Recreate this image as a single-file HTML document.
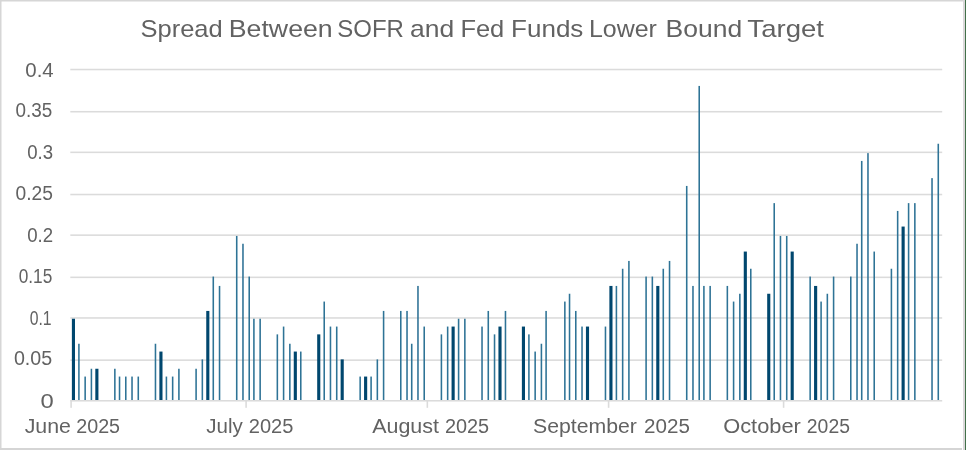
<!DOCTYPE html>
<html><head><meta charset="utf-8"><title>Spread Between SOFR and Fed Funds Lower Bound Target</title>
<style>
html,body{margin:0;padding:0;background:#fff;}
body{width:966px;height:450px;overflow:hidden;font-family:"Liberation Sans",sans-serif;}
svg{display:block;}
text{font-family:"Liberation Sans",sans-serif;fill:#626262;}
</style></head><body>
<svg width="966" height="450" viewBox="0 0 966 450">
<defs>
<filter id="bs" x="-2%" y="-2%" width="104%" height="104%"><feGaussianBlur stdDeviation="0.58"/></filter>
<filter id="bt" x="-2%" y="-10%" width="104%" height="120%"><feGaussianBlur stdDeviation="0.72"/></filter>
</defs>
<rect x="0" y="0" width="966" height="450" fill="#ffffff"/>

<g filter="url(#bs)">
<rect x="-2" y="-2" width="966" height="3.5" fill="#d6d6d6"/>
<rect x="-2" y="-2" width="3.5" height="454" fill="#d6d6d6"/>
<rect x="-2" y="448" width="964" height="4" fill="#d5d5d5"/>
<rect x="963" y="-2" width="2" height="454" fill="#dbd9da"/>
</g>
<rect x="965" y="0" width="1" height="450" fill="#42704a"/>
<g filter="url(#bs)"><g transform="scale(1.5625)">
<rect x="45" y="44" width="558" height="1" fill="#dbdbdb"/>
<rect x="45" y="71" width="558" height="1" fill="#dbdbdb"/>
<rect x="45" y="97" width="558" height="1" fill="#dbdbdb"/>
<rect x="45" y="124" width="558" height="1" fill="#dbdbdb"/>
<rect x="45" y="150" width="558" height="1" fill="#dbdbdb"/>
<rect x="45" y="177" width="558" height="1" fill="#dbdbdb"/>
<rect x="45" y="203" width="558" height="1" fill="#dbdbdb"/>
<rect x="45" y="230" width="558" height="1" fill="#dbdbdb"/>
<rect x="46" y="204" width="2" height="52" fill="#00466e"/>
<rect x="50" y="220" width="1" height="36" fill="#2f7396"/>
<rect x="54" y="241" width="1" height="15" fill="#2f7396"/>
<rect x="58" y="236" width="1" height="20" fill="#2f7396"/>
<rect x="61" y="236" width="2" height="20" fill="#00466e"/>
<rect x="73" y="236" width="1" height="20" fill="#2f7396"/>
<rect x="76" y="241" width="1" height="15" fill="#2f7396"/>
<rect x="80" y="241" width="1" height="15" fill="#2f7396"/>
<rect x="84" y="241" width="1" height="15" fill="#2f7396"/>
<rect x="88" y="241" width="1" height="15" fill="#2f7396"/>
<rect x="99" y="220" width="1" height="36" fill="#2f7396"/>
<rect x="102" y="225" width="2" height="31" fill="#00466e"/>
<rect x="106" y="241" width="1" height="15" fill="#2f7396"/>
<rect x="110" y="241" width="1" height="15" fill="#2f7396"/>
<rect x="114" y="236" width="1" height="20" fill="#2f7396"/>
<rect x="125" y="236" width="1" height="20" fill="#2f7396"/>
<rect x="129" y="230" width="1" height="26" fill="#2f7396"/>
<rect x="132" y="199" width="2" height="57" fill="#00466e"/>
<rect x="136" y="177" width="1" height="79" fill="#2f7396"/>
<rect x="140" y="183" width="1" height="73" fill="#2f7396"/>
<rect x="151" y="151" width="1" height="105" fill="#2f7396"/>
<rect x="155" y="156" width="1" height="100" fill="#2f7396"/>
<rect x="159" y="177" width="1" height="79" fill="#2f7396"/>
<rect x="162" y="204" width="1" height="52" fill="#2f7396"/>
<rect x="166" y="204" width="1" height="52" fill="#2f7396"/>
<rect x="177" y="214" width="1" height="42" fill="#2f7396"/>
<rect x="181" y="209" width="1" height="47" fill="#2f7396"/>
<rect x="185" y="220" width="1" height="36" fill="#2f7396"/>
<rect x="188" y="225" width="2" height="31" fill="#00466e"/>
<rect x="192" y="225" width="1" height="31" fill="#2f7396"/>
<rect x="203" y="214" width="2" height="42" fill="#00466e"/>
<rect x="207" y="193" width="1" height="63" fill="#2f7396"/>
<rect x="211" y="209" width="1" height="47" fill="#2f7396"/>
<rect x="215" y="209" width="1" height="47" fill="#2f7396"/>
<rect x="218" y="230" width="2" height="26" fill="#00466e"/>
<rect x="230" y="241" width="1" height="15" fill="#2f7396"/>
<rect x="233" y="241" width="2" height="15" fill="#00466e"/>
<rect x="237" y="241" width="1" height="15" fill="#2f7396"/>
<rect x="241" y="230" width="1" height="26" fill="#2f7396"/>
<rect x="245" y="199" width="1" height="57" fill="#2f7396"/>
<rect x="256" y="199" width="1" height="57" fill="#2f7396"/>
<rect x="260" y="199" width="1" height="57" fill="#2f7396"/>
<rect x="263" y="220" width="1" height="36" fill="#2f7396"/>
<rect x="267" y="183" width="1" height="73" fill="#2f7396"/>
<rect x="271" y="209" width="1" height="47" fill="#2f7396"/>
<rect x="282" y="214" width="1" height="42" fill="#2f7396"/>
<rect x="286" y="209" width="1" height="47" fill="#2f7396"/>
<rect x="289" y="209" width="2" height="47" fill="#00466e"/>
<rect x="293" y="204" width="1" height="52" fill="#2f7396"/>
<rect x="297" y="204" width="1" height="52" fill="#2f7396"/>
<rect x="308" y="209" width="1" height="47" fill="#2f7396"/>
<rect x="312" y="199" width="1" height="57" fill="#2f7396"/>
<rect x="316" y="214" width="1" height="42" fill="#2f7396"/>
<rect x="319" y="209" width="2" height="47" fill="#00466e"/>
<rect x="323" y="199" width="1" height="57" fill="#2f7396"/>
<rect x="334" y="209" width="2" height="47" fill="#00466e"/>
<rect x="338" y="214" width="1" height="42" fill="#2f7396"/>
<rect x="342" y="225" width="1" height="31" fill="#2f7396"/>
<rect x="346" y="220" width="1" height="36" fill="#2f7396"/>
<rect x="349" y="199" width="1" height="57" fill="#2f7396"/>
<rect x="361" y="193" width="1" height="63" fill="#2f7396"/>
<rect x="364" y="188" width="1" height="68" fill="#2f7396"/>
<rect x="368" y="199" width="1" height="57" fill="#2f7396"/>
<rect x="372" y="209" width="1" height="47" fill="#2f7396"/>
<rect x="375" y="209" width="2" height="47" fill="#00466e"/>
<rect x="387" y="209" width="1" height="47" fill="#2f7396"/>
<rect x="390" y="183" width="2" height="73" fill="#00466e"/>
<rect x="394" y="183" width="1" height="73" fill="#2f7396"/>
<rect x="398" y="172" width="1" height="84" fill="#2f7396"/>
<rect x="402" y="167" width="1" height="89" fill="#2f7396"/>
<rect x="413" y="177" width="1" height="79" fill="#2f7396"/>
<rect x="417" y="177" width="1" height="79" fill="#2f7396"/>
<rect x="420" y="183" width="2" height="73" fill="#00466e"/>
<rect x="424" y="172" width="1" height="84" fill="#2f7396"/>
<rect x="428" y="167" width="1" height="89" fill="#2f7396"/>
<rect x="439" y="119" width="1" height="137" fill="#2f7396"/>
<rect x="443" y="183" width="1" height="73" fill="#2f7396"/>
<rect x="447" y="55" width="1" height="201" fill="#2f7396"/>
<rect x="450" y="183" width="1" height="73" fill="#2f7396"/>
<rect x="454" y="183" width="1" height="73" fill="#2f7396"/>
<rect x="465" y="183" width="1" height="73" fill="#2f7396"/>
<rect x="469" y="193" width="1" height="63" fill="#2f7396"/>
<rect x="473" y="188" width="1" height="68" fill="#2f7396"/>
<rect x="476" y="161" width="2" height="95" fill="#00466e"/>
<rect x="480" y="172" width="1" height="84" fill="#2f7396"/>
<rect x="491" y="188" width="2" height="68" fill="#00466e"/>
<rect x="495" y="130" width="1" height="126" fill="#2f7396"/>
<rect x="499" y="151" width="1" height="105" fill="#2f7396"/>
<rect x="503" y="151" width="1" height="105" fill="#2f7396"/>
<rect x="506" y="161" width="2" height="95" fill="#00466e"/>
<rect x="518" y="177" width="1" height="79" fill="#2f7396"/>
<rect x="521" y="183" width="2" height="73" fill="#00466e"/>
<rect x="525" y="193" width="1" height="63" fill="#2f7396"/>
<rect x="529" y="188" width="1" height="68" fill="#2f7396"/>
<rect x="533" y="177" width="1" height="79" fill="#2f7396"/>
<rect x="544" y="177" width="1" height="79" fill="#2f7396"/>
<rect x="548" y="156" width="1" height="100" fill="#2f7396"/>
<rect x="551" y="103" width="1" height="153" fill="#2f7396"/>
<rect x="555" y="98" width="1" height="158" fill="#2f7396"/>
<rect x="559" y="161" width="1" height="95" fill="#2f7396"/>
<rect x="570" y="172" width="1" height="84" fill="#2f7396"/>
<rect x="574" y="135" width="1" height="121" fill="#2f7396"/>
<rect x="577" y="145" width="2" height="111" fill="#00466e"/>
<rect x="581" y="130" width="1" height="126" fill="#2f7396"/>
<rect x="585" y="130" width="1" height="126" fill="#2f7396"/>
<rect x="596" y="114" width="1" height="142" fill="#2f7396"/>
<rect x="600" y="92" width="1" height="164" fill="#2f7396"/>
<rect x="45" y="256" width="558" height="1" fill="#dbdbdb"/>
<rect x="45" y="256" width="1" height="5" fill="#dbdbdb"/>
<rect x="157" y="256" width="1" height="5" fill="#dbdbdb"/>
<rect x="273" y="256" width="1" height="5" fill="#dbdbdb"/>
<rect x="389" y="256" width="1" height="5" fill="#dbdbdb"/>
<rect x="501" y="256" width="1" height="5" fill="#dbdbdb"/>
</g></g>
<g filter="url(#bt)">
<text x="140.49" y="37.3" font-size="23.2" fill="#696969" textLength="82.24" lengthAdjust="spacingAndGlyphs">Spread</text>
<text x="228.79" y="37.3" font-size="23.2" fill="#696969" textLength="103.95" lengthAdjust="spacingAndGlyphs">Between</text>
<text x="337.35" y="37.3" font-size="23.2" fill="#696969" textLength="66.55" lengthAdjust="spacingAndGlyphs">SOFR</text>
<text x="409.94" y="37.3" font-size="23.2" fill="#696969" textLength="44.20" lengthAdjust="spacingAndGlyphs">and</text>
<text x="460.40" y="37.3" font-size="23.2" fill="#696969" textLength="43.90" lengthAdjust="spacingAndGlyphs">Fed</text>
<text x="511.04" y="37.3" font-size="23.2" fill="#696969" textLength="72.35" lengthAdjust="spacingAndGlyphs">Funds</text>
<text x="588.92" y="37.3" font-size="23.2" fill="#696969" textLength="67.99" lengthAdjust="spacingAndGlyphs">Lower</text>
<text x="665.54" y="37.3" font-size="23.2" fill="#696969" textLength="76.64" lengthAdjust="spacingAndGlyphs">Bound</text>
<text x="747.38" y="37.3" font-size="23.2" fill="#696969" textLength="76.56" lengthAdjust="spacingAndGlyphs">Target</text>
<text x="25.29" y="76.5" font-size="19.4" fill="#707070" textLength="28.38" lengthAdjust="spacingAndGlyphs">0.4</text>
<text x="15.45" y="116.9" font-size="19.4" fill="#707070" textLength="36.76" lengthAdjust="spacingAndGlyphs">0.35</text>
<text x="27.19" y="159.3" font-size="19.4" fill="#707070" textLength="25.87" lengthAdjust="spacingAndGlyphs">0.3</text>
<text x="15.54" y="199.7" font-size="19.4" fill="#707070" textLength="37.41" lengthAdjust="spacingAndGlyphs">0.25</text>
<text x="27.17" y="242.2" font-size="19.4" fill="#707070" textLength="25.92" lengthAdjust="spacingAndGlyphs">0.2</text>
<text x="18.71" y="282.5" font-size="19.4" fill="#707070" textLength="33.59" lengthAdjust="spacingAndGlyphs">0.15</text>
<text x="29.70" y="325.0" font-size="19.4" fill="#707070" textLength="21.88" lengthAdjust="spacingAndGlyphs">0.1</text>
<text x="13.95" y="365.4" font-size="19.4" fill="#707070" textLength="38.27" lengthAdjust="spacingAndGlyphs">0.05</text>
<text x="40.53" y="407.8" font-size="19.4" fill="#707070" textLength="13.23" lengthAdjust="spacingAndGlyphs">0</text>
<text x="24.66" y="433.2" font-size="19.4" fill="#707070" textLength="46.24" lengthAdjust="spacingAndGlyphs">June</text>
<text x="76.28" y="433.2" font-size="19.4" fill="#707070" textLength="43.81" lengthAdjust="spacingAndGlyphs">2025</text>
<text x="206.21" y="433.2" font-size="19.4" fill="#707070" textLength="36.51" lengthAdjust="spacingAndGlyphs">July</text>
<text x="248.72" y="433.2" font-size="19.4" fill="#707070" textLength="44.67" lengthAdjust="spacingAndGlyphs">2025</text>
<text x="372.19" y="433.2" font-size="19.4" fill="#707070" textLength="66.81" lengthAdjust="spacingAndGlyphs">August</text>
<text x="444.93" y="433.2" font-size="19.4" fill="#707070" textLength="44.22" lengthAdjust="spacingAndGlyphs">2025</text>
<text x="532.97" y="433.2" font-size="19.4" fill="#707070" textLength="103.90" lengthAdjust="spacingAndGlyphs">September</text>
<text x="644.01" y="433.2" font-size="19.4" fill="#707070" textLength="45.85" lengthAdjust="spacingAndGlyphs">2025</text>
<text x="723.24" y="433.2" font-size="19.4" fill="#707070" textLength="77.60" lengthAdjust="spacingAndGlyphs">October</text>
<text x="806.86" y="433.2" font-size="19.4" fill="#707070" textLength="43.04" lengthAdjust="spacingAndGlyphs">2025</text>
</g>
</svg></body></html>
